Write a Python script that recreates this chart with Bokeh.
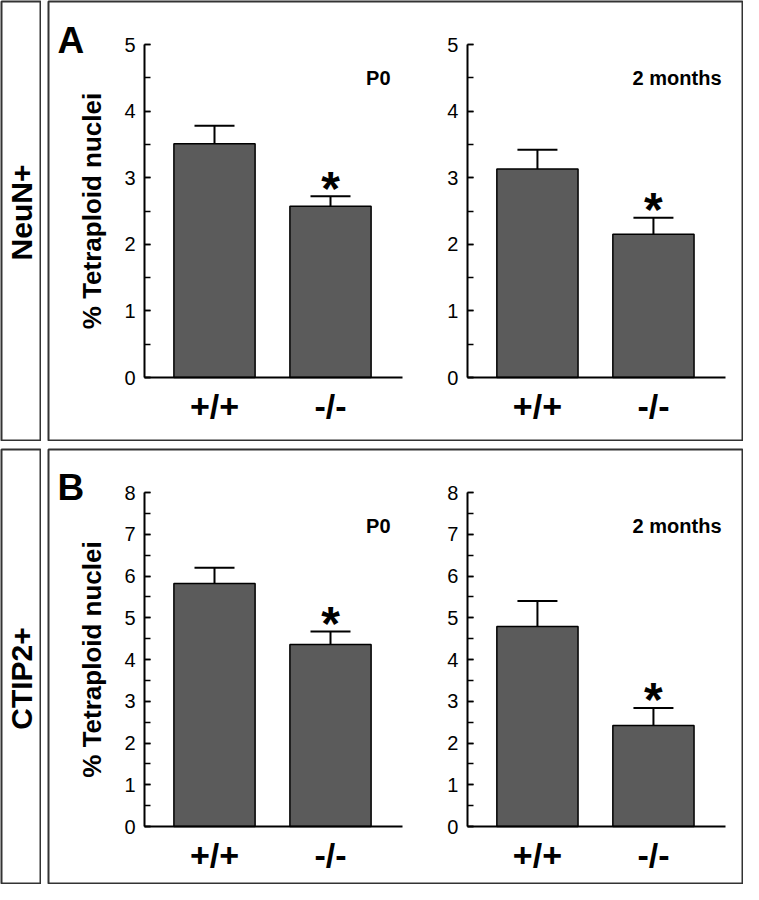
from bokeh.plotting import figure
from bokeh.models import (ColumnDataSource, LinearAxis, FixedTicker, SingleIntervalTicker,
                          Label, Whisker, TeeHead, Range1d)
from bokeh.layouts import row, column
from bokeh.embed import file_html
from bokeh.resources import INLINE
from bokeh.core.properties import value

# ---------------- data ----------------
genotypes = ["+/+", "-/-"]
panel_letters = ["A", "B"]
cell_markers = ["NeuN+", "CTIP2+"]
ages = ["P0", "2 months"]
y_label = "% Tetraploid nuclei"
y_max = [5, 8]

neun_p0_mean = [3.51, 2.57]
neun_p0_upper = [3.78, 2.72]
neun_2m_mean = [3.13, 2.15]
neun_2m_upper = [3.42, 2.40]
ctip2_p0_mean = [5.82, 4.36]
ctip2_p0_upper = [6.20, 4.67]
ctip2_2m_mean = [4.79, 2.42]
ctip2_2m_upper = [5.40, 2.84]
significant = [False, True]

panels = [
    [(neun_p0_mean, neun_p0_upper), (neun_2m_mean, neun_2m_upper)],
    [(ctip2_p0_mean, ctip2_p0_upper), (ctip2_2m_mean, ctip2_2m_upper)],
]

# ---------------- layout constants (pixels) ----------------
FONT = "Liberation Sans"
LBL_W, HGAP, MAIN_W = 41, 6, 696
PANEL_H = [441, 436]
VGAP = 7
MB = 1
MAIN_X0 = LBL_W + HGAP
PANEL_Y0 = [0, PANEL_H[0] + VGAP]
ZERO_PX = [377, 826]
TOP_PX = [44, 492]
LETTER_BASE = [40, 487]
AGE_BASE = [77, 525]
LABEL_CENTER = [212, 678]

X_ORIGIN = 98.0     # pixel x of slot 0
SLOT = 116.0        # pixels per slot
SUB_OFFSET = [0.0, 2.784]   # slot offset of each sub-plot
AGE_RIGHT = [390, 721]
AXIS_START = 0.397
AXIS_END = 2.62
BAR_W = 0.70


def px2x(px):
    return (px - X_ORIGIN) / SLOT


def make_px2y(i):
    ppu = (ZERO_PX[i] - TOP_PX[i]) / y_max[i]
    return lambda py: (ZERO_PX[i] - py) / ppu


def label_fig(text, i):
    f = figure(width=LBL_W, height=PANEL_H[i], x_range=Range1d(0, 1), y_range=Range1d(0, 1),
               toolbar_location=None, output_backend="svg", min_border=MB,
               x_axis_type=None, y_axis_type=None)
    f.outline_line_color = "#333333"
    f.outline_line_width = 2
    f.background_fill_color = "white"
    f.border_fill_color = "white"
    y0 = PANEL_Y0[i] + MB
    y1 = PANEL_Y0[i] + PANEL_H[i] - MB
    yy = 1 - (LABEL_CENTER[i] - y0) / (y1 - y0)
    f.add_layout(Label(x=0.5, y=yy, text=text, angle=90, angle_units="deg",
                       text_align="center", text_baseline="middle",
                       text_font=FONT, text_font_style="bold", text_font_size="30px",
                       text_color="black"))
    return f


def panel_fig(i):
    px2y = make_px2y(i)
    fx0 = MAIN_X0 + MB
    fx1 = MAIN_X0 + MAIN_W - MB
    fy0 = PANEL_Y0[i] + MB
    fy1 = PANEL_Y0[i] + PANEL_H[i] - MB
    p = figure(width=MAIN_W, height=PANEL_H[i],
               x_range=Range1d(px2x(fx0), px2x(fx1)),
               y_range=Range1d(px2y(fy1), px2y(fy0)),
               toolbar_location=None, output_backend="svg", min_border=MB,
               x_axis_type=None, y_axis_type=None)
    p.outline_line_color = "#333333"
    p.outline_line_width = 2
    p.background_fill_color = "white"
    p.border_fill_color = "white"

    for j, (means, uppers) in enumerate(panels[i]):
        off = SUB_OFFSET[j]
        xs = [off + 1 + k for k in range(len(genotypes))]
        src = ColumnDataSource(dict(x=xs, mean=means, upper=uppers, g=genotypes))
        p.vbar(x="x", top="mean", bottom=0, width=BAR_W, source=src,
               fill_color="#5b5b5b", line_color="black", line_width=1.5)
        p.add_layout(Whisker(source=src, base="x", lower="mean", upper="upper",
                             dimension="height", lower_head=None,
                             upper_head=TeeHead(size=40, line_width=2, line_color="black"),
                             line_width=2, line_color="black"))
        sx = [x for x, s in zip(xs, significant) if s]
        sy = [u for u, s in zip(uppers, significant) if s]
        p.text(x=sx, y=sy, text=["*"] * len(sx), text_align="center",
               text_baseline="alphabetic", y_offset=-8,
               text_font=value(FONT), text_font_style="bold", text_font_size="48px",
               text_color="black")

        yax = LinearAxis(fixed_location=off + AXIS_START, bounds=(0, y_max[i]),
                         ticker=SingleIntervalTicker(interval=1, num_minor_ticks=2))
        yax.axis_line_width = 2
        yax.axis_line_color = "black"
        yax.major_tick_in = 6
        yax.major_tick_out = 0
        yax.minor_tick_in = 6
        yax.minor_tick_out = 0
        yax.major_tick_line_width = 1.5
        yax.minor_tick_line_width = 1.5
        yax.major_label_standoff = 9
        yax.major_label_text_font = FONT
        yax.major_label_text_font_size = "20px"
        yax.major_label_text_color = "black"
        if j == 0:
            yax.axis_label = y_label
            yax.axis_label_text_font = FONT
            yax.axis_label_text_font_style = "bold"
            yax.axis_label_text_font_size = "26px"
            yax.axis_label_text_color = "black"
            yax.axis_label_standoff = 14
        p.add_layout(yax, "left")

        xax = LinearAxis(fixed_location=0, bounds=(off + AXIS_START, off + AXIS_END),
                         ticker=FixedTicker(ticks=xs),
                         major_label_overrides={x: g for x, g in zip(xs, genotypes)})
        xax.axis_line_width = 2
        xax.axis_line_color = "black"
        xax.major_tick_line_color = None
        xax.minor_tick_line_color = None
        xax.major_label_standoff = 3
        xax.major_label_text_font = FONT
        xax.major_label_text_font_style = "bold"
        xax.major_label_text_font_size = "34px"
        xax.major_label_text_color = "black"
        p.add_layout(xax, "below")

        p.add_layout(Label(x=px2x(AGE_RIGHT[j]), y=px2y(AGE_BASE[i]), text=ages[j],
                           text_align="right", text_baseline="alphabetic",
                           text_font=FONT, text_font_style="bold", text_font_size="20px",
                           text_color="black"))

    p.add_layout(Label(x=px2x(57), y=px2y(LETTER_BASE[i]), text=panel_letters[i],
                       text_align="left", text_baseline="alphabetic",
                       text_font=FONT, text_font_style="bold", text_font_size="37px",
                       text_color="black"))
    return p


rows = []
for i in range(2):
    rows.append(row(label_fig(cell_markers[i], i), panel_fig(i), spacing=HGAP))

layout = column(*rows, spacing=VGAP)

open("out.html", "w").write(file_html(layout, INLINE))
